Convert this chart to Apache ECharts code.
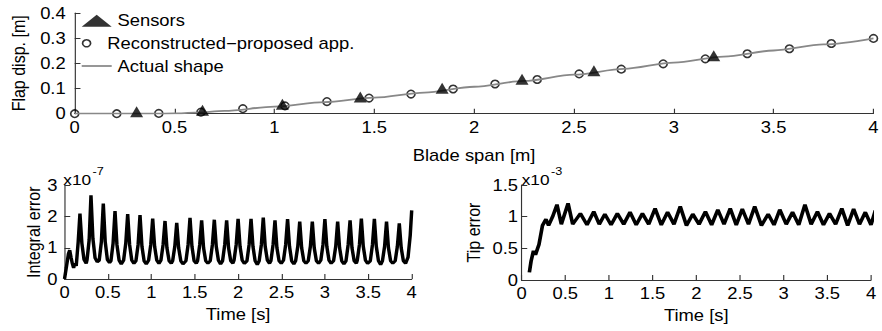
<!DOCTYPE html>
<html><head><meta charset="utf-8">
<script src="https://cdn.jsdelivr.net/npm/echarts@6/dist/echarts.min.js"></script>
<style>
html,body{margin:0;padding:0;background:#fff;overflow:hidden}
#wrap{width:882px;height:331px;overflow:hidden}
#c{width:767px;height:331px;transform:scaleX(1.15);transform-origin:0 0}
</style>
</head><body><div id="wrap"><div id="c"></div></div>
<script>
// ---- tick values ----
const spanTicks = [0, 0.5, 1, 1.5, 2, 2.5, 3, 3.5, 4];
const dispTicks = [0, 0.1, 0.2, 0.3, 0.4];
const timeTicks = [0, 0.5, 1, 1.5, 2, 2.5, 3, 3.5, 4];
const integralTicks = [0, 1, 2, 3];
const tipTicks = [0, 0.5, 1, 1.5];

// ---- top plot: flap displacement along blade span ----
const sensorX = [0.31, 0.64, 1.04, 1.43, 1.84, 2.24, 2.6, 3.2];
const sensorY = [0.0, 0.006, 0.03, 0.058, 0.093, 0.129, 0.163, 0.222];
const reconX = [0, 0.2105, 0.421, 0.632, 0.842, 1.053, 1.263, 1.474, 1.684, 1.895, 2.105, 2.316, 2.526, 2.737, 2.947, 3.158, 3.368, 3.579, 3.789, 4.0];
const reconY = [0, 0, 0.001, 0.006, 0.02, 0.031, 0.048, 0.062, 0.078, 0.098, 0.118, 0.136, 0.158, 0.177, 0.198, 0.218, 0.238, 0.258, 0.279, 0.299];
const actualX = [0, 0.25, 0.4, 0.5, 0.6, 0.75, 1.0, 1.25, 1.5, 1.75, 2.0, 2.25, 2.5, 2.75, 3.0, 3.25, 3.5, 3.75, 4.0];
const actualY = [0, 0, 0, 0.001, 0.004, 0.011, 0.028, 0.046, 0.064, 0.084, 0.107, 0.13, 0.155, 0.178, 0.203, 0.227, 0.251, 0.275, 0.299];

// ---- bottom left: integral error (x1e-7) vs time ----
const integralErr = [
 [0,0],[0.02,0.35],[0.045,0.8],[0.06,0.92],[0.075,0.7],[0.09,0.5],[0.105,0.36],[0.12,0.5],[0.135,0.42],
 [0.158,1.2],[0.178,2.1],[0.2,1.15],[0.225,0.62],[0.25,0.5],
 [0.26,0.62],[0.284,1.25],[0.305,2.68],[0.327,1.3],[0.352,0.68],[0.377,0.55],
 [0.4,0.6],[0.425,1.2],[0.447,2.42],[0.469,1.2],[0.494,0.62],[0.519,0.52],
 [0.535,0.58],[0.56,1.15],[0.582,2.18],[0.604,1.1],[0.629,0.6],[0.654,0.48],
 [0.681,0.6],[0.706,1.15],[0.728,2.08],[0.75,1.1],[0.775,0.6],[0.8,0.5],
 [0.823,0.58],[0.848,1.1],[0.87,2.05],[0.892,1.05],[0.917,0.58],[0.942,0.48],
 [0.969,0.6],[0.994,1.1],[1.016,1.94],[1.038,1.05],[1.063,0.6],[1.088,0.5],
 [1.111,0.6],[1.136,1.1],[1.158,1.86],[1.18,1.0],[1.205,0.58],[1.23,0.5],
 [1.246,0.58],[1.271,1.05],[1.293,1.8],[1.315,1.0],[1.34,0.58],[1.365,0.48],
 [1.399,0.58],[1.424,1.1],[1.446,1.96],[1.468,1.05],[1.493,0.58],[1.518,0.5],
 [1.533,0.58],[1.558,1.1],[1.58,1.88],[1.602,1.0],[1.627,0.58],[1.652,0.5],
 [1.679,0.58],[1.704,1.1],[1.726,1.9],[1.748,1.05],[1.773,0.6],[1.798,0.48],
 [1.821,0.58],[1.846,1.1],[1.868,1.88],[1.89,1.0],[1.915,0.58],[1.94,0.5],
 [1.953,0.6],[1.978,1.1],[2.0,1.93],[2.022,1.05],[2.047,0.6],[2.072,0.5],
 [2.102,0.58],[2.127,1.1],[2.149,1.93],[2.171,1.05],[2.196,0.58],[2.221,0.46],
 [2.243,0.58],[2.268,1.1],[2.29,1.97],[2.312,1.05],[2.337,0.6],[2.362,0.5],
 [2.378,0.58],[2.403,1.1],[2.425,1.88],[2.447,1.0],[2.472,0.58],[2.497,0.5],
 [2.523,0.6],[2.548,1.1],[2.57,1.92],[2.592,1.05],[2.617,0.58],[2.642,0.48],
 [2.663,0.58],[2.688,1.05],[2.71,1.84],[2.732,1.0],[2.757,0.58],[2.782,0.5],
 [2.808,0.58],[2.833,1.05],[2.855,1.84],[2.877,1.0],[2.902,0.58],[2.927,0.5],
 [2.953,0.6],[2.978,1.1],[3.0,1.92],[3.022,1.05],[3.047,0.6],[3.072,0.5],
 [3.1,0.58],[3.125,1.05],[3.147,1.84],[3.169,1.0],[3.194,0.58],[3.219,0.48],
 [3.243,0.58],[3.268,1.1],[3.29,1.88],[3.312,1.0],[3.337,0.58],[3.362,0.5],
 [3.373,0.6],[3.398,1.1],[3.42,1.94],[3.442,1.05],[3.467,0.6],[3.492,0.5],
 [3.523,0.58],[3.548,1.1],[3.57,1.93],[3.592,1.05],[3.617,0.58],[3.642,0.46],
 [3.663,0.58],[3.688,1.05],[3.71,1.84],[3.732,1.0],[3.757,0.58],[3.782,0.5],
 [3.81,0.58],[3.835,1.05],[3.857,1.78],[3.879,1.0],[3.904,0.58],[3.929,0.5],
 [3.958,0.7],[3.983,1.4],[4.0,2.2]
];

// ---- bottom right: tip error (x1e-3) vs time ----
const tipErr = [
 [0.09,0.12],[0.11,0.3],[0.137,0.46],[0.16,0.4],[0.185,0.5],[0.2,0.56],[0.24,0.86],[0.28,0.96],[0.31,0.86],
 [0.356,1.0],[0.406,1.19],[0.456,0.88],[0.533,1.21],[0.586,0.88],
 [0.674,1.05],[0.75,0.87],[0.827,1.08],[0.89,0.88],[0.954,1.04],[1.025,0.87],[1.097,1.05],[1.17,0.88],
 [1.242,1.07],[1.313,0.87],[1.384,1.05],[1.456,0.88],[1.529,1.13],[1.6,0.87],[1.672,1.07],[1.745,0.88],
 [1.817,1.16],[1.888,0.86],[1.96,1.04],[2.032,0.88],[2.105,1.08],[2.176,0.87],[2.247,1.11],[2.318,0.88],
 [2.389,1.13],[2.458,0.87],[2.527,1.12],[2.598,0.88],[2.669,1.16],[2.746,0.86],[2.823,1.04],[2.89,0.87],
 [2.956,1.11],[3.03,0.88],[3.102,1.07],[3.173,0.87],[3.244,1.19],[3.315,0.88],[3.387,1.08],[3.456,0.87],
 [3.525,1.05],[3.595,0.88],[3.666,1.13],[3.733,0.86],[3.801,1.12],[3.868,0.88],[3.935,1.07],[4.0,0.87],[4.05,1.1]
];

const S = 1.15;            // horizontal stretch of the whole figure
const W = 767;             // unstretched chart width
function px(x) { return x / S; }
const F = '"Liberation Sans", Arial, Helvetica, sans-serif';
const AX = '#333';

function zip(a, b) { return a.map((v, i) => [v, b[i]]); }
function axis(ticks, name, gap, margin, gridIndex) {
  return {
    type: 'value', gridIndex: gridIndex,
    min: ticks[0], max: ticks[ticks.length - 1], interval: ticks[1] - ticks[0],
    name: name, nameLocation: 'middle', nameGap: gap,
    nameTextStyle: { fontSize: 16, color: '#000', fontFamily: F },
    axisLine: { show: true, onZero: false, lineStyle: { color: AX, width: 1 } },
    axisTick: { show: true, inside: true, length: 5, lineStyle: { color: AX, width: 1 } },
    axisLabel: { fontSize: 16, color: '#000', fontFamily: F, margin: margin },
    splitLine: { show: false }
  };
}

const chart = echarts.init(document.getElementById('c'), null, { renderer: 'svg', width: W, height: 331 });
const legendText = { fontSize: 16, color: '#000', fontFamily: F, lineHeight: 16 };
chart.setOption({
  animation: false,
  backgroundColor: '#fff',
  grid: [
    { left: px(71.5), right: W - px(877), top: 13, bottom: 217.3 },
    { left: px(64.5), right: W - px(411.7), top: 185.4, bottom: 52 },
    { left: px(521.5), right: W - px(871), top: 185, bottom: 51 }
  ],
  xAxis: [
    axis(spanTicks, 'Blade span [m]', 34, 6, 0),
    axis(timeTicks, 'Time [s]', 27.5, 5.5, 1),
    axis(timeTicks, 'Time [s]', 27.5, 5.5, 2)
  ],
  yAxis: [
    axis(dispTicks, 'Flap disp. [m]', px(46), px(9), 0),
    axis(integralTicks, 'Integral error', px(20), px(7), 1),
    axis(tipTicks, 'Tip error', px(38.5), px(3.5), 2)
  ],
  legend: [
    { data: ['Sensors'], orient: 'vertical', left: px(81.7), top: 12.7, padding: 0, itemWidth: px(30), itemHeight: 12,
      icon: 'triangle', textStyle: legendText, itemStyle: { color: '#000' } },
    { data: ['Reconstructed\u2212proposed app.'], orient: 'vertical', left: px(81.7), top: 35.3, padding: 0, itemWidth: px(30), itemHeight: 7,
      icon: 'circle', textStyle: legendText, itemStyle: { color: 'rgba(0,0,0,0)', borderColor: '#000', borderWidth: 1.5 } },
    { data: ['Actual shape'], orient: 'vertical', left: px(81.7), top: 58, padding: 0, itemWidth: px(30), itemHeight: 14,
      icon: 'path://M0,0L30,0L30,2L0,2Z', textStyle: legendText, itemStyle: { color: '#888' } }
  ],
  graphic: [
    { type: 'text', x: px(63.3), y: 179.5, style: { text: 'x10', font: '15px ' + F, fill: '#000', verticalAlign: 'middle' } },
    { type: 'text', x: px(92.5), y: 171, style: { text: '-7', font: '11px ' + F, fill: '#000', verticalAlign: 'middle' } },
    { type: 'text', x: px(521.7), y: 179.5, style: { text: 'x10', font: '15px ' + F, fill: '#000', verticalAlign: 'middle' } },
    { type: 'text', x: px(551), y: 171, style: { text: '-3', font: '11px ' + F, fill: '#000', verticalAlign: 'middle' } }
  ],
  series: [
    { name: 'Sensors', type: 'scatter', xAxisIndex: 0, yAxisIndex: 0, data: zip(sensorX, sensorY),
      symbol: 'triangle', symbolSize: [px(13), 11], symbolOffset: [0, -2], itemStyle: { color: '#000' }, z: 5 },
    { name: 'Reconstructed\u2212proposed app.', type: 'scatter', xAxisIndex: 0, yAxisIndex: 0, data: zip(reconX, reconY),
      symbol: 'circle', symbolSize: [px(8), 7.5], itemStyle: { color: 'rgba(0,0,0,0)', borderColor: '#000', borderWidth: 1.5 }, z: 3 },
    { name: 'Actual shape', type: 'line', xAxisIndex: 0, yAxisIndex: 0, data: zip(actualX, actualY),
      symbol: 'none', smooth: 0.3, smoothMonotone: 'x', lineStyle: { color: '#888', width: 1.8 }, itemStyle: { color: '#888' }, z: 4 },
    { type: 'line', xAxisIndex: 1, yAxisIndex: 1, data: integralErr, symbol: 'none',
      lineStyle: { color: '#000', width: 3 } },
    { type: 'line', xAxisIndex: 2, yAxisIndex: 2, data: tipErr, symbol: 'none', clip: false,
      lineStyle: { color: '#000', width: 3.2 } }
  ]
});
</script>
</body></html>
